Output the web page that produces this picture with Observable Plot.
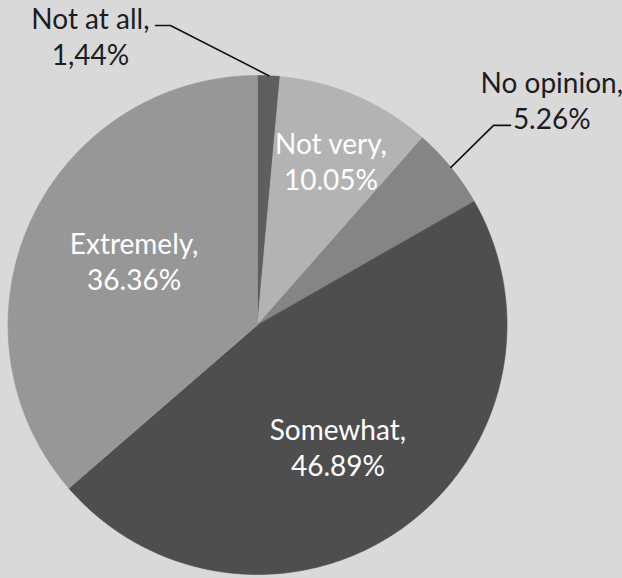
<!DOCTYPE html>
<html>
<head>
<meta charset="utf-8">
<script src="https://cdn.jsdelivr.net/npm/d3@7"></script>
<script src="https://cdn.jsdelivr.net/npm/@observablehq/plot@0.6"></script>
<style>
  html, body { margin: 0; padding: 0; background: #d9d9d9; }
  #chart svg { display: block; }
</style>
</head>
<body>
<div id="chart"></div>
<script>
// ---- data ----
const categories = ["Not at all", "Not very", "No opinion", "Somewhat", "Extremely"];
const values = [1.44, 10.05, 5.26, 46.89, 36.36];
const valueLabels = ["1,44%", "10.05%", "5.26%", "46.89%", "36.36%"];
const sliceColors = ["#5f5f5f", "#b3b3b3", "#858585", "#4e4e4e", "#979797"];

// ---- label layout (polar: offset from slice mid-angle in degrees, radius as fraction of pie radius) ----
const labelInside = [false, true, false, true, true];
const labelAngleOffset = [-32.6, 0.8, 1.7, 1.8, 3.05];
const labelRadius = [1.339, 0.722, 1.486, 0.584, 0.558];
const elbowAngleOffset = [-18.8, null, -1.05, null, null];
const elbowRadius = [1.25, null, 1.239, null, null];
const tailLength = [-0.06, null, 0.068, null, null];

const rad = Math.PI / 180;
const polar = (a, r) => [r * Math.sin(a), r * Math.cos(a)];

const rows = categories.map((c, i) => ({category: c, value: values[i], label: c + ",\n" + valueLabels[i], i}));
const arcs = d3.pie().sort(null).value(d => d.value)(rows);

// slice outlines
const slicePts = [];
for (const a of arcs) {
  slicePts.push({category: a.data.category, x: 0, y: 0});
  const n = Math.max(4, Math.ceil((a.endAngle - a.startAngle) / (0.4 * rad)));
  for (let k = 0; k <= n; k++) {
    const t = a.startAngle + (a.endAngle - a.startAngle) * k / n;
    const [x, y] = polar(t, 1);
    slicePts.push({category: a.data.category, x, y});
  }
  slicePts.push({category: a.data.category, x: 0, y: 0});
}

// labels
const labels = arcs.map(a => {
  const i = a.data.i;
  const mid = (a.startAngle + a.endAngle) / 2;
  const [x, y] = polar(mid + labelAngleOffset[i] * rad, labelRadius[i]);
  return {text: a.data.label, x, y, inside: labelInside[i]};
});

// leader lines
const leaders = [];
arcs.forEach(a => {
  const i = a.data.i;
  if (labelInside[i]) return;
  const mid = (a.startAngle + a.endAngle) / 2;
  const [x0, y0] = polar(mid, 1);
  const [x1, y1] = polar(mid + elbowAngleOffset[i] * rad, elbowRadius[i]);
  leaders.push({k: i, x: x0, y: y0}, {k: i, x: x1, y: y1}, {k: i, x: x1 + tailLength[i], y: y1});
});

const R = 249.5, cx = 257, cy = 324.5;
const W = 622, H = 578;

const chart = Plot.plot({
  width: W,
  height: H,
  marginLeft: cx - R,
  marginRight: W - (cx + R),
  marginTop: cy - R,
  marginBottom: H - (cy + R),
  x: {domain: [-1, 1], axis: null},
  y: {domain: [-1, 1], axis: null},
  color: {domain: categories, range: sliceColors},
  style: {background: "#d9d9d9", fontFamily: "Lato, 'Open Sans', sans-serif", overflow: "visible"},
  marks: [
    Plot.line(slicePts, {x: "x", y: "y", z: "category", fill: "category", stroke: "category", strokeWidth: 0.6, curve: "linear"}),
    Plot.line(leaders, {x: "x", y: "y", z: "k", stroke: "#111", strokeWidth: 1.6}),
    Plot.text(labels.filter(d => d.inside), {x: "x", y: "y", text: "text", fill: "white", fontSize: 28, lineHeight: 1.28, textAnchor: "middle"}),
    Plot.text(labels.filter(d => !d.inside), {x: "x", y: "y", text: "text", fill: "#1c1c24", fontSize: 28, lineHeight: 1.28, textAnchor: "middle"})
  ]
});
document.getElementById("chart").appendChild(chart);
</script>
</body>
</html>
